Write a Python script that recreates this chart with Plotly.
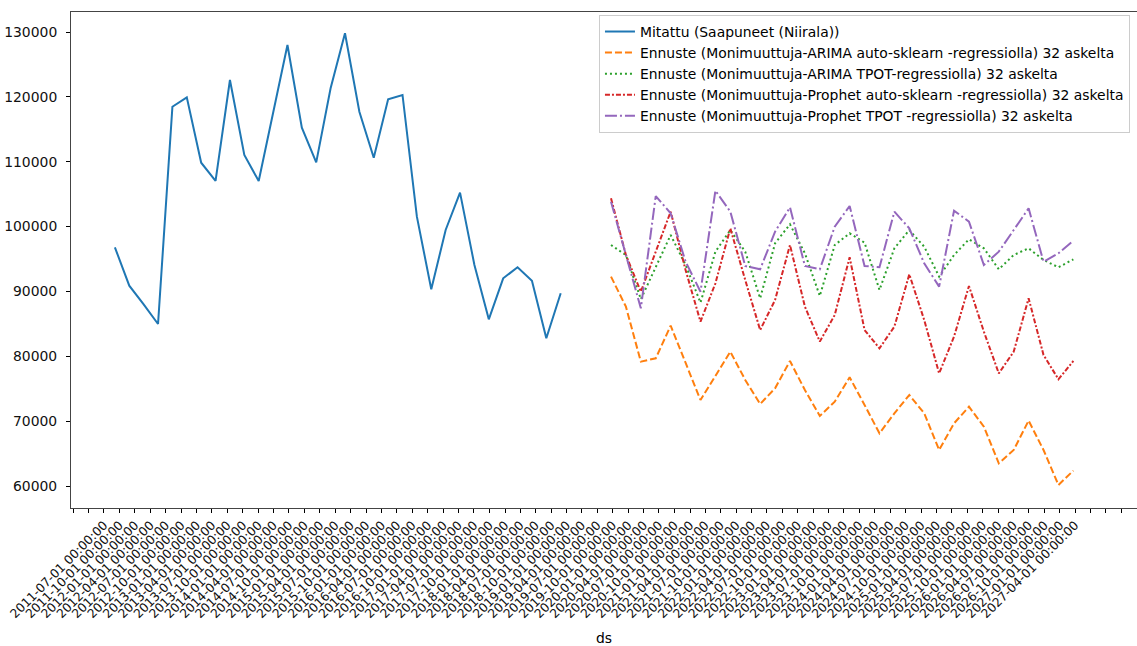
import pandas as pd
import plotly.graph_objects as go

# Measured arrivals (Niirala), 32 observations
measured = [
    96800, 90880, 88000, 84980, 118480, 119930, 109850, 107030,
    122600, 111040, 107030, 117500, 128000, 115250, 109900, 121320,
    129800, 117710, 110620, 119620, 120290, 101530, 90330, 99470,
    105230, 94080, 85700, 92020, 93720, 91660, 82770, 89710,
]

# 32-step forecasts from the four multivariate models
arima_autosklearn = [
    92280, 87650, 79170, 79690, 84720, 79020, 73260, 76960,
    80710, 76350, 72650, 75060, 79280, 74800, 70800, 73000,
    76760, 72490, 68120, 71210, 74030, 71210, 65550, 69660,
    72230, 69150, 63500, 65550, 70080, 65550, 60160, 62370,
]
arima_tpot = [
    97160, 95600, 88800, 93820, 98700, 94080, 88270, 96130,
    99470, 96130, 88940, 97420, 100350, 95880, 89300, 97160,
    98960, 97520, 90220, 96650, 99470, 96900, 92280, 95620,
    98030, 96650, 93410, 95620, 96650, 94850, 93720, 94950,
]
prophet_autosklearn = [
    104350, 95620, 89960, 96130, 102300, 93300, 85340, 91250,
    99730, 91760, 84050, 88680, 97160, 87650, 82260, 86370,
    95260, 84050, 81230, 84570, 92640, 85600, 77370, 83030,
    90840, 83800, 77370, 80710, 88940, 80200, 76450, 79280,
]
prophet_tpot = [
    103840, 95620, 87400, 104710, 102040, 94590, 89960, 105540,
    102300, 93920, 93410, 99220, 102970, 93920, 93410, 99990,
    103170, 93920, 93720, 102300, 99730, 94330, 90740, 102450,
    100760, 94080, 96130, 99470, 102810, 94590, 95880, 97830,
]

measured_dates = pd.date_range("2011-09-04", "2018-11-27", periods=len(measured))
forecast_dates = pd.date_range("2019-09-21", "2027-03-22", periods=len(arima_autosklearn))

# Quarterly ticks; the labelled ones run 2011-07-01 .. 2027-04-01
tick_dates = pd.date_range("2011-01-01", "2028-01-01", freq="QS")
label_start, label_end = pd.Timestamp("2011-07-01"), pd.Timestamp("2027-04-01")
tick_text = [d.strftime("%Y-%m-%d 00:00:00") if label_start <= d <= label_end else ""
             for d in tick_dates]

y_ticks = [60000, 70000, 80000, 90000, 100000, 110000, 120000, 130000]

series = [
    ("Mitattu (Saapuneet (Niirala))", measured_dates, measured, "#1f77b4", "solid"),
    ("Ennuste (Monimuuttuja-ARIMA auto-sklearn -regressiolla) 32 askelta",
     forecast_dates, arima_autosklearn, "#ff7f0e", "7px,3px"),
    ("Ennuste (Monimuuttuja-ARIMA TPOT-regressiolla) 32 askelta",
     forecast_dates, arima_tpot, "#2ca02c", "2px,3px"),
    ("Ennuste (Monimuuttuja-Prophet auto-sklearn -regressiolla) 32 askelta",
     forecast_dates, prophet_autosklearn, "#d62728", "5px,2px,2px,2px"),
    ("Ennuste (Monimuuttuja-Prophet TPOT -regressiolla) 32 askelta",
     forecast_dates, prophet_tpot, "#9467bd", "12px,3px,2px,3px"),
]

fig = go.Figure()
for name, xs, ys, color, dash in series:
    fig.add_trace(go.Scatter(
        x=xs, y=ys, name=name, mode="lines",
        line=dict(color=color, width=2, dash=dash),
    ))

fig.update_layout(
    width=1137, height=646,
    margin=dict(l=71, r=0, t=12, b=138),
    paper_bgcolor="white", plot_bgcolor="white",
    font=dict(family="DejaVu Sans", size=13.9, color="black"),
    showlegend=True,
    legend=dict(
        x=0.9934, y=0.994, xanchor="right", yanchor="top",
        bgcolor="rgba(255,255,255,0.8)", bordercolor="#cccccc", borderwidth=1,
        font=dict(size=13.9), tracegroupgap=0,
    ),
    xaxis=dict(
        type="date", range=["2010-12-18", "2028-04-02"],
        tickmode="array", tickvals=tick_dates, ticktext=tick_text,
        tickangle=-45, ticks="outside", ticklen=4, tickcolor="black",
        tickfont=dict(size=12.4, color="#111111"),
        showgrid=False, zeroline=False,
        showline=True, linecolor="#444444", linewidth=1, mirror=True,
        automargin=False,
        title=dict(text="ds", standoff=14, font=dict(size=13.9)),
    ),
    yaxis=dict(
        range=[56608, 133084],
        tickmode="array", tickvals=y_ticks, ticktext=[str(v) for v in y_ticks],
        ticks="outside", ticklen=4, tickcolor="black",
        tickfont=dict(size=13.9, color="#111111"),
        ticklabelstandoff=6,
        showgrid=False, zeroline=False,
        showline=True, linecolor="#444444", linewidth=1, mirror=False,
        automargin=False,
    ),
)

fig.write_html("out.html")
